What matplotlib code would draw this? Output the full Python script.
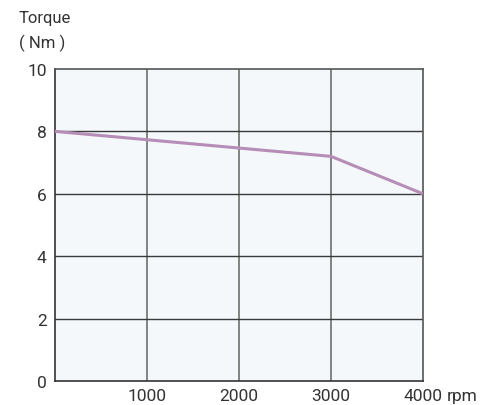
import matplotlib.pyplot as plt

speed = [0, 3000, 4000]
torque = [8.0, 7.2, 6.0]
x_ticks = [1000, 2000, 3000, 4000]
y_ticks = [0, 2, 4, 6, 8, 10]

plt.rcParams['font.family'] = ['Roboto', 'DejaVu Sans']

fig = plt.figure(figsize=(4.97, 4.06), dpi=100)
ax = fig.add_axes([55 / 497, 1 - 382 / 406, 368 / 497, 312 / 406])
ax.set_facecolor('#f4f8fb')

ax.plot(speed, torque, color='#b68db6', lw=2.2, solid_capstyle='butt', zorder=3)

ax.set_xlim(0, 4000)
ax.set_ylim(0, 10)
ax.set_xticks(x_ticks)
ax.set_yticks(y_ticks)
ax.tick_params(length=0, labelsize=12.5, colors='#333333')
ax.tick_params(axis='x', pad=5)
ax.tick_params(axis='y', pad=6)

for x in x_ticks[:-1]:
    ax.axvline(x, color='#6e6e6e', lw=1.2, zorder=1)
for y in y_ticks[1:-1]:
    ax.axhline(y, color='#3a3a3a', lw=1.0, zorder=1)

for s in ax.spines.values():
    s.set_color('#555555')
    s.set_linewidth(1.2)
ax.spines['left'].set_color('#333333')
ax.spines['bottom'].set_color('#333333')

fig.text(447 / 497, 1 - 397 / 406, 'rpm', ha='left', va='center', fontsize=12.5, color='#333333')
fig.text(19 / 497, 1 - 19 / 406, 'Torque', fontsize=12, color='#333333', va='center')
fig.text(19 / 497, 1 - 43 / 406, '( Nm )', fontsize=12, color='#333333', va='center')

fig.savefig('out.png', dpi=100)
